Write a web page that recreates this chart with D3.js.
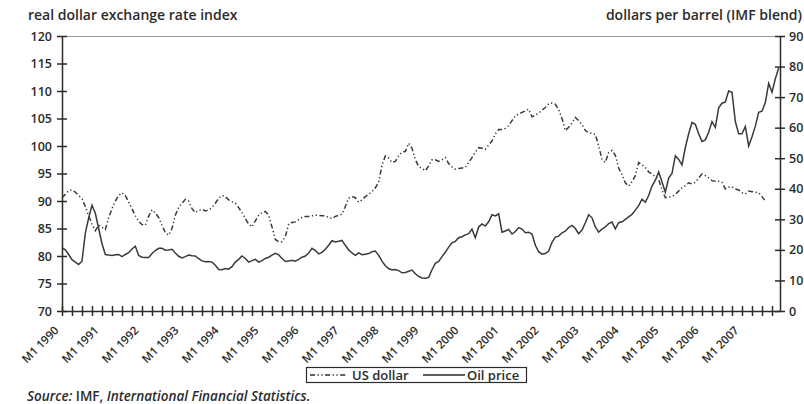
<!DOCTYPE html>
<html>
<head>
<meta charset="utf-8">
<script src="https://cdn.jsdelivr.net/npm/d3@7"></script>
<style>
  body { margin: 0; background: #fff; }
  text { font-family: "Open Sans", sans-serif; font-weight: 600; fill: #2b2b2b; }
</style>
</head>
<body>
<svg id="chart" width="804" height="404"></svg>
<script>
// monthly series, Jan 1990 onwards
const startYear = 1990;

// oil price, dollars per barrel (right axis), Jan 1990 - Dec 2007
const oilPrice = [
  20.7, 20.0, 18.5, 16.8, 16.0, 15.2, 16.3, 25.5, 30.5, 34.6, 32.0, 27.0,
  22.0, 18.5, 18.3, 18.2, 18.4, 18.5, 17.8, 18.5, 19.1, 20.3, 21.2, 18.2,
  17.6, 17.5, 17.5, 18.8, 19.8, 20.5, 20.5, 19.9, 20.0, 20.2, 19.0, 17.9,
  17.4, 17.8, 18.3, 18.1, 18.0, 17.1, 16.4, 16.1, 16.2, 16.0, 15.0, 13.6,
  13.5, 13.9, 13.7, 14.5, 16.0, 16.9, 18.0, 17.2, 16.0, 16.5, 16.9, 16.0,
  16.5, 17.2, 17.6, 18.3, 18.9, 18.4, 17.2, 16.2, 16.4, 16.6, 16.3, 16.9,
  17.6, 18.0, 19.0, 20.5, 19.8, 18.7, 19.2, 20.2, 21.5, 23.0, 22.6, 22.8,
  23.1, 21.5, 20.0, 19.0, 18.2, 19.0, 18.4, 18.6, 18.8, 19.4, 19.6, 18.2,
  16.3, 14.8, 13.9, 13.4, 13.6, 13.2, 12.5, 12.6, 13.0, 13.4, 12.2, 11.3,
  10.8, 10.7, 11.0, 13.5, 15.6, 16.2, 17.8, 19.2, 20.9, 22.3, 22.8, 24.0,
  24.3, 24.9, 25.3, 26.8, 24.0, 27.5, 28.5, 27.8, 29.2, 31.5, 31.1, 31.8,
  25.8, 26.2, 26.7, 25.2, 26.0, 27.3, 26.8, 25.6, 25.8, 25.2, 21.5, 19.4,
  18.6, 18.8, 19.6, 22.5, 24.2, 24.5, 25.6, 26.1, 27.3, 28.0, 27.0, 25.3,
  26.5, 28.9, 31.5, 30.5, 27.5, 25.8, 26.8, 27.5, 28.6, 29.1, 26.9, 28.9,
  29.2, 30.0, 30.8, 31.6, 33.0, 34.5, 36.6, 35.6, 37.8, 40.9, 42.8, 45.5,
  42.2, 38.9, 43.5, 45.0, 50.8, 49.6, 47.8, 53.5, 58.0, 61.7, 61.1, 58.0,
  55.5, 56.0, 58.5, 62.0, 60.1, 66.5, 68.0, 68.4, 72.0, 71.6, 62.0, 58.0,
  58.0, 60.4, 54.0, 57.0, 60.5, 65.0, 65.4, 68.2, 74.5, 71.6, 76.0, 79.5
];

// real dollar exchange rate index (left axis), Jan 1990 - Aug 2007
const usDollar = [
  90.6, 91.2, 91.9, 92.0, 91.6, 91.0, 90.4, 89.0, 87.3, 85.8, 84.6, 85.6,
  85.2, 84.8, 87.0, 88.6, 90.0, 91.0, 91.5, 91.0, 89.8, 88.6, 87.3, 86.3,
  85.7, 85.6, 87.2, 88.4, 87.8, 87.0, 85.6, 84.2, 83.8, 85.0, 87.4, 88.8,
  89.6, 90.3, 90.0, 88.6, 87.9, 88.3, 88.5, 88.2, 88.4, 88.8, 89.6, 90.5,
  91.0, 90.8, 90.2, 89.9, 89.6, 88.8, 87.9, 86.8, 85.8, 85.3, 86.4, 87.4,
  87.9, 88.1, 87.4, 85.3, 83.0, 82.6, 82.6, 83.5, 85.8, 86.1, 86.2, 86.6,
  87.0, 87.2, 87.2, 87.3, 87.4, 87.4, 87.3, 87.3, 87.0, 86.8, 87.2, 87.4,
  87.6, 89.0, 90.5, 90.8, 90.6, 89.8, 90.2, 90.8, 91.2, 91.7, 92.4, 93.4,
  96.5, 98.2, 97.8, 97.0, 97.2, 98.2, 98.9, 99.0, 100.5, 99.6, 97.5, 96.3,
  95.9, 95.5, 96.4, 97.5, 97.5, 97.2, 97.5, 97.9, 96.8, 96.2, 95.8, 95.9,
  96.0, 96.1, 97.0, 97.9, 98.9, 99.7, 99.6, 99.4, 100.2, 100.9, 102.2, 103.0,
  103.0, 103.2, 103.7, 104.6, 105.5, 105.8, 106.1, 106.4, 106.7, 105.3, 105.6, 106.0,
  106.5, 107.0, 107.7, 107.8, 107.6, 106.6, 105.0, 102.8, 103.4, 104.2, 105.2, 104.6,
  103.9, 102.8, 102.4, 102.3, 102.1, 100.0, 97.6, 97.0, 98.8, 99.2, 98.3, 96.0,
  94.8, 93.3, 92.7, 93.5, 94.6, 97.0, 96.6, 96.1, 95.3, 94.9, 94.4, 93.9,
  92.0, 90.6, 90.7, 90.8, 91.2, 91.8, 92.4, 92.8, 93.3, 93.1, 93.4, 94.2,
  94.9, 94.6, 94.2, 93.7, 93.6, 93.6, 93.4, 92.2, 92.5, 92.6, 92.2, 92.0,
  91.5, 91.3, 91.8, 91.7, 91.6, 91.5, 90.8, 90.0
];

const leftTicks = [70, 75, 80, 85, 90, 95, 100, 105, 110, 115, 120];
const rightTicks = [0, 10, 20, 30, 40, 50, 60, 70, 80, 90];
const legendLabels = ["US dollar", "Oil price"];

const svg = d3.select("#chart");
const plotLeft = 62, plotRight = 780, plotTop = 36, plotBottom = 311;
const ink = "#2b2b2b";

const x = d3.scaleLinear().domain([0, 215.4]).range([plotLeft, plotRight]);
const yL = d3.scaleLinear().domain([70, 120]).range([plotBottom, plotTop]);
const yR = d3.scaleLinear().domain([0, 90]).range([plotBottom, plotTop]);

// top frame line
svg.append("line")
  .attr("x1", plotLeft).attr("x2", plotRight)
  .attr("y1", plotTop + 0.5).attr("y2", plotTop + 0.5)
  .attr("stroke", "#9a9a9a").attr("stroke-width", 1);

// left axis
const gL = svg.append("g")
  .attr("transform", `translate(${plotLeft},0)`)
  .call(d3.axisLeft(yL).tickValues(leftTicks).tickSize(5).tickSizeOuter(0).tickPadding(5));
gL.selectAll(".tick line").attr("x1", 5);

// right axis
const gR = svg.append("g")
  .attr("transform", `translate(${plotRight},0)`)
  .call(d3.axisRight(yR).tickValues(rightTicks).tickSize(5).tickSizeOuter(0).tickPadding(4));
gR.selectAll(".tick line").attr("x1", -5);

// bottom axis, quarterly ticks, labels every January
const gB = svg.append("g")
  .attr("transform", `translate(0,${plotBottom})`)
  .call(d3.axisBottom(x)
    .tickValues(d3.range(0, 216, 3))
    .tickFormat(d => d % 12 === 0 ? `M1 ${startYear + d / 12}` : "")
    .tickSize(5).tickSizeOuter(0));
gB.selectAll(".tick line").attr("y1", -5);
gB.selectAll(".tick text")
  .attr("y", 0).attr("dy", 0)
  .attr("text-anchor", "end")
  .attr("transform", "translate(-3,20) rotate(-45)")
  .style("font-size", "11.5px");

[gL, gR, gB].forEach(g => {
  g.attr("font-family", null).attr("font-size", null);
  g.selectAll(".domain, .tick line").attr("stroke", ink).attr("stroke-width", 1.5);
  g.selectAll("text").attr("fill", ink);
});
gL.selectAll("text").style("font-size", "12.5px");
gR.selectAll("text").style("font-size", "12.5px");

// axis titles
svg.append("text").attr("x", 28).attr("y", 20)
  .style("font-size", "14px").text("real dollar exchange rate index");
svg.append("text").attr("x", 802).attr("y", 20).attr("text-anchor", "end")
  .style("font-size", "14px").text("dollars per barrel (IMF blend)");

// lines
const dashDot = "5,2.5,1.3,2.5,1.3,2.5";
const usLine = d3.line().x((d, i) => x(i)).y(d => yL(d));
const oilLine = d3.line().x((d, i) => x(i)).y(d => yR(d));

svg.append("path").datum(oilPrice)
  .attr("d", oilLine).attr("fill", "none")
  .attr("stroke", "#3a3a3a").attr("stroke-width", 1.5);

svg.append("path").datum(usDollar)
  .attr("d", usLine).attr("fill", "none")
  .attr("stroke", "#3a3a3a").attr("stroke-width", 1.5)
  .attr("stroke-dasharray", dashDot);

// legend
const lg = svg.append("g");
lg.append("rect").attr("x", 306.5).attr("y", 367.5).attr("width", 220).attr("height", 15)
  .attr("fill", "none").attr("stroke", ink).attr("stroke-width", 1.2);
lg.append("line").attr("x1", 310).attr("x2", 347).attr("y1", 375).attr("y2", 375)
  .attr("stroke", ink).attr("stroke-width", 1.5).attr("stroke-dasharray", dashDot);
lg.append("text").attr("x", 352).attr("y", 380).style("font-size", "13px").text(legendLabels[0]);
lg.append("line").attr("x1", 423).attr("x2", 465).attr("y1", 375).attr("y2", 375)
  .attr("stroke", ink).attr("stroke-width", 1.5);
lg.append("text").attr("x", 467).attr("y", 380).style("font-size", "13px").text(legendLabels[1]);

// source note
const src = svg.append("text").attr("x", 27).attr("y", 401).style("font-size", "13.5px");
src.append("tspan").style("font-style", "italic").text("Source:");
src.append("tspan").text(" IMF, ");
src.append("tspan").style("font-style", "italic").text("International Financial Statistics.");
</script>
</body>
</html>
